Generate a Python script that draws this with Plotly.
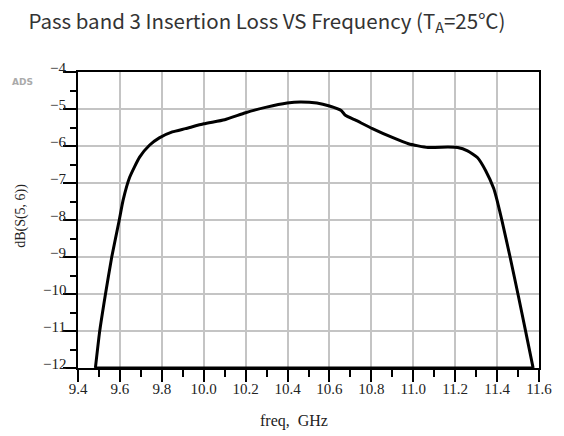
import plotly.graph_objects as go

freq = [9.483, 9.503, 9.530, 9.561, 9.597, 9.615, 9.647, 9.694, 9.741, 9.788, 9.85, 9.913,
        10.0, 10.10, 10.2, 10.30, 10.398, 10.46, 10.54, 10.60, 10.656, 10.676, 10.727,
        10.805, 10.90, 10.977, 11.07, 11.165, 11.212, 11.259, 11.306, 11.345, 11.384,
        11.4, 11.423, 11.462, 11.501, 11.537, 11.572]
loss = [-12, -11.03, -10.04, -9.0, -8.0, -7.47, -6.84, -6.30, -5.98, -5.78, -5.62, -5.53,
        -5.40, -5.29, -5.10, -4.95, -4.84, -4.81, -4.84, -4.92, -5.04, -5.17, -5.31,
        -5.53, -5.77, -5.94, -6.04, -6.03, -6.04, -6.13, -6.31, -6.66, -7.15,
        -7.47, -8.01, -9.0, -10.04, -11.03, -12]

x_ticks = [9.4, 9.6, 9.8, 10.0, 10.2, 10.4, 10.6, 10.8, 11.0, 11.2, 11.4, 11.6]
x_labels = ["9.4", "9.6", "9.8", "10.0", "10.2", "10.4", "10.6", "10.8", "11.0", "11.2", "11.4", "11.6"]
y_ticks = [-4, -5, -6, -7, -8, -9, -10, -11, -12]
y_labels = ["−4", "−5", "−6", "−7", "−8", "−9", "−10", "−11", "−12"]

serif = "Liberation Serif, DejaVu Serif, serif"
W, H = 564, 436
L, R, T, B = 78, 18, 72, 68
pw, ph = W - L - R, H - T - B

def px(x):
    return (x - L) / pw

def py(y):
    return (H - B - y) / ph

fig = go.Figure()
# baseline (clipped part of the response, at the -12 dB floor)
fig.add_trace(go.Scatter(x=[freq[0], freq[-1]], y=[loss[0], loss[-1]], mode="lines",
                         line=dict(color="black", width=3), showlegend=False,
                         cliponaxis=False))
fig.add_trace(go.Scatter(x=freq, y=loss, mode="lines",
                         line=dict(color="black", width=3, shape="spline", smoothing=0.5),
                         showlegend=False, cliponaxis=False))

for v, t in zip(y_ticks, y_labels):
    fig.add_annotation(x=0, xref="paper", y=v, yref="y", text=t, showarrow=False,
                       xanchor="right", yanchor="middle", xshift=-10, yshift=4,
                       font=dict(family=serif, size=15, color="#222"))

fig.add_annotation(x=px(297), xref="paper", y=py(421), yref="paper", text="freq,  GHz",
                   showarrow=False, xanchor="center", yanchor="middle",
                   font=dict(family=serif, size=16, color="#222"))
fig.add_annotation(x=px(20), xref="paper", y=py(216), yref="paper", text="dB(S(5, 6))",
                   textangle=-90, showarrow=False, xanchor="center", yanchor="middle",
                   font=dict(family=serif, size=14, color="#222"))
fig.add_annotation(x=px(22), xref="paper", y=py(82), yref="paper", text="<b>ADS</b>",
                   showarrow=False, xanchor="center", yanchor="middle",
                   font=dict(family="DejaVu Sans, sans-serif", size=9, color="#aaaaaa"))

fig.update_layout(
    width=W, height=H,
    margin=dict(l=L, r=R, t=T, b=B),
    paper_bgcolor="white", plot_bgcolor="white",
    title=dict(text="Pass band 3 Insertion Loss VS Frequency (T<sub>A</sub>=25℃)",
               x=267 / W, xref="container", xanchor="center",
               y=1 - 22 / H, yref="container", yanchor="middle",
               font=dict(family="Noto Sans CJK SC, Noto Sans, sans-serif", size=20.5, color="#333")),
    xaxis=dict(range=[9.4, 11.6], tickmode="array", tickvals=x_ticks, ticktext=x_labels,
               showgrid=True, gridcolor="#c4c4c4", gridwidth=1.5,
               showline=True, linecolor="black", linewidth=2, mirror=True,
               ticks="outside", ticklen=12, tickwidth=2, tickcolor="black",
               minor=dict(dtick=0.1, tick0=9.4, ticks="outside", ticklen=7, tickwidth=2,
                          tickcolor="black", showgrid=False),
               tickfont=dict(family=serif, size=15, color="#222"),
               ticklabelstandoff=-6,
               ticklabeloverflow="allow", zeroline=False),
    yaxis=dict(range=[-12, -4], tickmode="array", tickvals=y_ticks, showticklabels=False,
               showgrid=True, gridcolor="#c4c4c4", gridwidth=1.5,
               showline=True, linecolor="black", linewidth=2, mirror=True,
               ticks="outside", ticklen=13, tickwidth=2, tickcolor="black",
               minor=dict(dtick=0.5, tick0=-4, ticks="outside", ticklen=6, tickwidth=2,
                          tickcolor="black", showgrid=False),
               zeroline=False),
)

fig.write_html("out.html", config={"displayModeBar": False},
               post_script="document.body.style.margin='0';")
